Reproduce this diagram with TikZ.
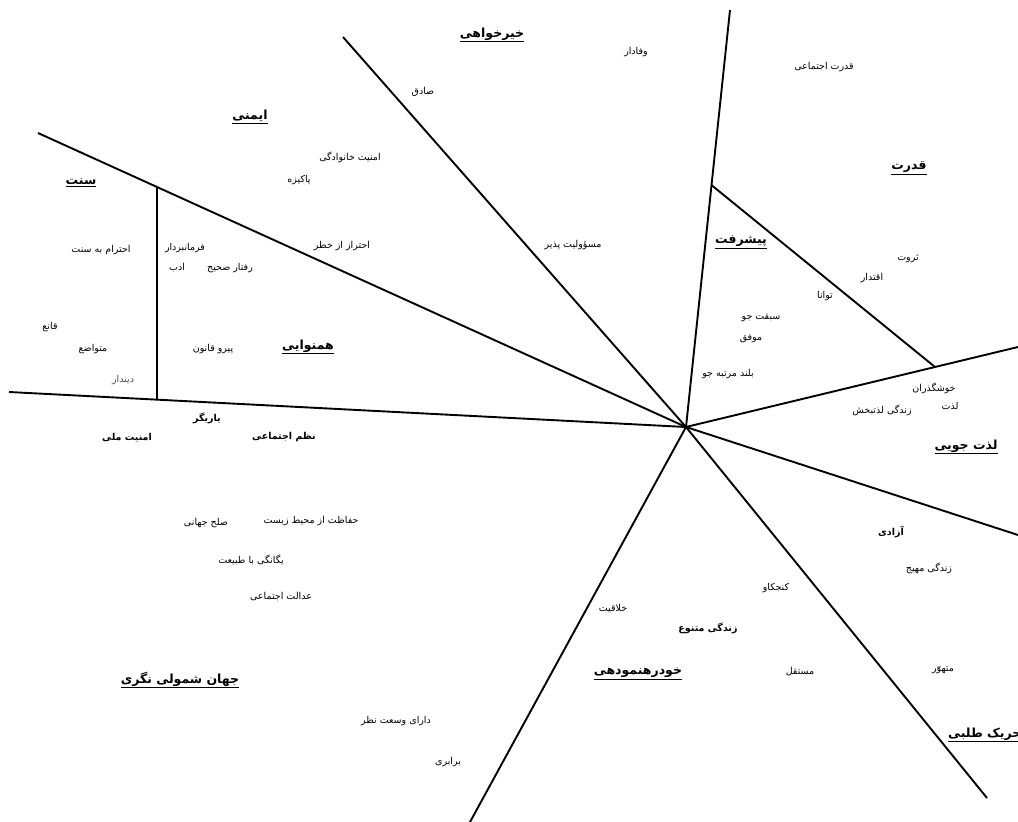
\documentclass[tikz,border=0pt]{standalone}
\usepackage{fontspec}
\usetikzlibrary{calc}
\newfontfamily\farsifont[Script=Arabic]{DejaVu Sans}
\TeXXeTstate=1
\newcommand{\fa}[1]{\beginR #1\endR}
\newcommand{\faul}[1]{$\underline{\hbox{\beginR #1\endR}}$}

\begin{document}
\begin{tikzpicture}[
        x=1pt, y=-1pt,
        divider/.style={line width=1.9pt},
        value/.style={font=\farsifont\fontsize{9.5}{11}\selectfont, inner sep=1pt},
        keyvalue/.style={font=\farsifont\bfseries\fontsize{9.5}{11}\selectfont, inner sep=1pt},
        heading/.style={font=\farsifont\bfseries\fontsize{12.5}{14}\selectfont, inner sep=1pt}
    ]
        \useasboundingbox (0,0) rectangle (1018,822);
        \clip (0,0) rectangle (1018,822);

        % hub and the ends of the dividers
        \coordinate (hub) at (686,427);
        \coordinate (kheir-end) at (343,37);
        \coordinate (imeni-end) at (38,133);
        \coordinate (sonnat-end) at (9,392);
        \coordinate (qodrat-end) at (730,10);
        \coordinate (lezzat-end) at (1018,347);
        \coordinate (tahrik-end) at (1018,535);
        \coordinate (khod-end) at (987,798);
        \coordinate (jahan-end) at (470,822);

        \foreach \e in {kheir-end, imeni-end, sonnat-end, qodrat-end,
                        lezzat-end, tahrik-end, khod-end, jahan-end}
            \draw[divider] (hub) -- (\e);

        % inner dividers
        \coordinate (pishraft-top) at ($(hub)!0.58!(qodrat-end)$);
        \coordinate (pishraft-bot) at ($(hub)!0.75!(lezzat-end)$);
        \coordinate (sonnat-top) at ($(hub)!0.8164!(imeni-end)$);
        \coordinate (sonnat-bot) at ($(hub)!0.7814!(sonnat-end)$);
        \draw[divider] (pishraft-top) -- (pishraft-bot);
        \draw[divider] (sonnat-top) -- (sonnat-bot);

        % headings
        \node[heading] (kheirkhahi) at (492,35) {\faul{خیرخواهی}};
        \node[heading] (imeni) at (250,117) {\faul{ایمنی}};
        \node[heading] (sonnat) at (81,183) {\faul{سنت}};
        \node[heading] (hamnavayi) at (308,347) {\faul{همنوایی}};
        \node[heading] (pishraft) at (741,242) {\faul{پیشرفت}};
        \node[heading] (qodrat) at (909,168) {\faul{قدرت}};
        \node[heading] (lezzatjooyi) at (966,447) {\faul{لذت جویی}};
        \node[heading, anchor=west] (tahriktalabi) at (947,735) {\faul{تحریک طلبی}};
        \node[heading] (khodrahnemoodi) at (638,674) {\faul{خودرهنمودهی}};
        \node[heading] (jahanshomooli) at (180,680) {\faul{جهان شمولی نگری}};

        % values
        \node[value] (vafadar) at (636,52) {\fa{وفادار}};
        \node[value] (sadeq) at (423,92) {\fa{صادق}};
        \node[value] (qodratejtemaei) at (824,67) {\fa{قدرت اجتماعی}};
        \node[value] (amniyatkhanevadegi) at (350,157) {\fa{امنیت خانوادگی}};
        \node[value] (pakize) at (299,180) {\fa{پاکیزه}};
        \node[value] (ehteramsonnat) at (101,250) {\fa{احترام به سنت}};
        \node[value] (farmanbardar) at (185,248) {\fa{فرمانبردار}};
        \node[value] (adab) at (177,268) {\fa{ادب}};
        \node[value] (raftarsahih) at (230,268) {\fa{رفتار صحیح}};
        \node[value] (ehteraz) at (342,246) {\fa{احتراز از خطر}};
        \node[value] (masooliyat) at (573,245) {\fa{مسؤولیت پذیر}};
        \node[value] (servat) at (908,259) {\fa{ثروت}};
        \node[value] (eqtedar) at (872,278) {\fa{اقتدار}};
        \node[value] (tavana) at (825,296) {\fa{توانا}};
        \node[value] (sebqatjoo) at (761,318) {\fa{سبقت جو}};
        \node[value] (movaffaq) at (751,339) {\fa{موفق}};
        \node[value] (bolandmartabe) at (728,374) {\fa{بلند مرتبه جو}};
        \node[value] (qane) at (50,327) {\fa{قانع}};
        \node[value] (motavaze) at (93,349) {\fa{متواضع}};
        \node[value] (peyroqanoon) at (213,349) {\fa{پیرو قانون}};
        \node[value, text=black!70] (dindar) at (123,380) {\fa{دیندار}};
        \node[keyvalue] (yarigar) at (207,418) {\fa{یاریگر}};
        \node[keyvalue] (amniyatmelli) at (127,438) {\fa{امنیت ملی}};
        \node[keyvalue] (nazmejtemaei) at (284,437) {\fa{نظم اجتماعی}};
        \node[value] (khoshgozaran) at (934,388) {\fa{خوشگذران}};
        \node[value] (lezzat) at (950,406) {\fa{لذت}};
        \node[value] (zendegilezzat) at (882,410) {\fa{زندگی لذتبخش}};
        \node[keyvalue] (azadi) at (891,532) {\fa{آزادی}};
        \node[value] (zendegimohayyej) at (929,568) {\fa{زندگی مهیج}};
        \node[value] (konjkav) at (776,588) {\fa{کنجکاو}};
        \node[value] (khallaqiyat) at (613,609) {\fa{خلاقیت}};
        \node[keyvalue] (zendegimotanavve) at (708,628) {\fa{زندگی متنوع}};
        \node[value] (mostaqel) at (800,672) {\fa{مستقل}};
        \node[value] (motahavver) at (943,670) {\fa{متهوّر}};
        \node[value] (hefazat) at (311,521) {\fa{حفاظت از محیط زیست}};
        \node[value] (solhjahani) at (206,523) {\fa{صلح جهانی}};
        \node[value] (yeganegi) at (251,560) {\fa{یگانگی با طبیعت}};
        \node[value] (edalat) at (281,597) {\fa{عدالت اجتماعی}};
        \node[value] (vosatnazar) at (396,721) {\fa{دارای وسعت نظر}};
        \node[value] (barabari) at (448,762) {\fa{برابری}};
    \end{tikzpicture}
\end{document}
